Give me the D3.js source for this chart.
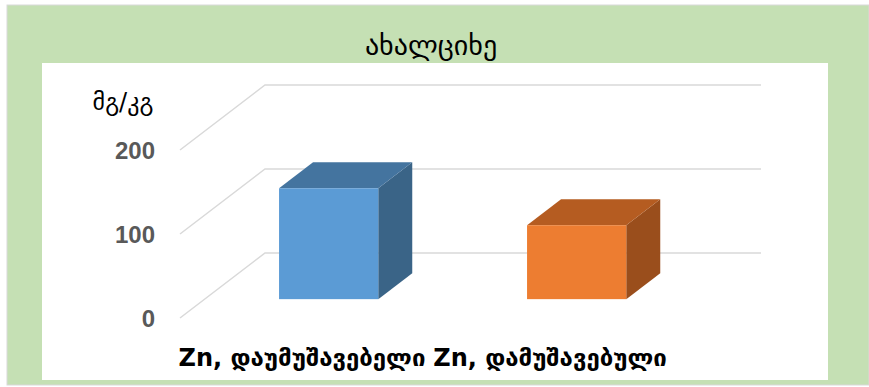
<!DOCTYPE html>
<html>
<head>
<meta charset="utf-8">
<script src="https://cdn.jsdelivr.net/npm/d3@7/dist/d3.min.js"></script>
<style>
  body { margin: 0; background: #fff; }
</style>
</head>
<body>
<div id="chart"></div>
<script>
// chart data
const title = "ახალციხე";
const yTitle = "მგ/კგ";
const categories = ["Zn, დაუმუშავებელი", "Zn, დამუშავებული"];
const values = [132, 88];
const yTicks = [0, 100, 200];

document.addEventListener("DOMContentLoaded", () => {
    makeChart();
});

function makeChart() {
    const w = 869, h = 387;
    const geo = "'DejaVu Sans', sans-serif";

    // oblique 3d: full floor depth offset
    const depthX = 85, depthY = -65;
    const barFront = 0.29, barBack = 0.69;   // bar position inside the depth
    const faces = [
        {front: "#5b9bd5", top: "#44749f", side: "#3a6487"},
        {front: "#ed7d31", top: "#b55c21", side: "#9a4e1c"}
    ];

    const svg = d3.select("#chart").append("svg")
        .attr("width", w)
        .attr("height", h);

    // outer frame and plot area
    svg.append("rect").attr("x", 7).attr("y", 5).attr("width", w - 7).attr("height", 380)
        .attr("fill", "#c5e0b4").attr("stroke", "#d9d9d9").attr("stroke-width", 1);
    svg.append("rect").attr("x", 42).attr("y", 63).attr("width", 786).attr("height", 317)
        .attr("fill", "#fff");

    svg.append("text")
        .attr("x", 431).attr("y", 55)
        .attr("text-anchor", "middle")
        .style("font-family", geo)
        .style("font-size", "28px")
        .attr("fill", "#000")
        .text(title);

    const yScale = d3.scaleLinear()
        .domain([0, 200])
        .range([318, 150]);

    const xScale = d3.scaleBand()
        .domain(categories)
        .range([180, 761 - depthX]);

    // gridlines along left wall and back wall
    const grid = svg.append("g");
    yTicks.forEach((v) => {
        const y = yScale(v);
        grid.append("path")
            .attr("d", "M" + 180 + "," + y + "L" + (180 + depthX) + "," + (y + depthY) + "L761," + (y + depthY))
            .attr("fill", "none")
            .attr("stroke", "#d9d9d9")
            .attr("stroke-width", 1.5);
    });

    // y axis labels
    const yAxis = d3.axisLeft(yScale).tickValues(yTicks).tickSize(0).tickPadding(0);
    const ax = svg.append("g")
        .attr("transform", "translate(155,0)")
        .call(yAxis);
    ax.select(".domain").remove();
    ax.selectAll("text")
        .style("font-family", "'Liberation Sans', sans-serif")
        .style("font-weight", "bold")
        .style("font-size", "24px")
        .attr("fill", "#595959")
        .attr("dy", "0.36em");

    svg.append("text")
        .attr("x", 123).attr("y", 110)
        .attr("text-anchor", "middle")
        .style("font-family", geo)
        .style("font-size", "24px")
        .attr("fill", "#000")
        .text(yTitle);

    // bars
    const bw = xScale.bandwidth() * 0.4;
    const fx = barFront * depthX, fy = barFront * depthY;
    const bx = (barBack - barFront) * depthX, by = (barBack - barFront) * depthY;

    const bars = svg.selectAll(".bar")
        .data(values)
        .enter()
        .append("g")
        .attr("class", "bar");

    bars.each(function (d, i) {
        const g = d3.select(this);
        const x0 = xScale(categories[i]) + xScale.bandwidth() / 2 - bw / 2 + fx;
        const x1 = x0 + bw;
        const yb = yScale(0) + fy;
        const yt = yScale(d) + fy;
        const c = faces[i];
        g.append("path")
            .attr("d", "M" + x1 + "," + yt + "L" + (x1 + bx) + "," + (yt + by) + "L" + (x1 + bx) + "," + (yb + by) + "L" + x1 + "," + yb + "Z")
            .attr("fill", c.side);
        g.append("path")
            .attr("d", "M" + x0 + "," + yt + "L" + (x0 + bx) + "," + (yt + by) + "L" + (x1 + bx) + "," + (yt + by) + "L" + x1 + "," + yt + "Z")
            .attr("fill", c.top);
        g.append("rect")
            .attr("x", x0).attr("y", yt)
            .attr("width", bw).attr("height", yb - yt)
            .attr("fill", c.front);
    });

    // category labels
    svg.selectAll(".cat")
        .data(categories)
        .enter()
        .append("text")
        .attr("class", "cat")
        .attr("x", (d) => xScale(d) + xScale.bandwidth() / 2 - 2)
        .attr("y", 366)
        .attr("text-anchor", "middle")
        .style("font-family", geo)
        .style("font-weight", "bold")
        .style("font-size", "24px")
        .attr("fill", "#000")
        .text((d) => d);
}
</script>
</body>
</html>
